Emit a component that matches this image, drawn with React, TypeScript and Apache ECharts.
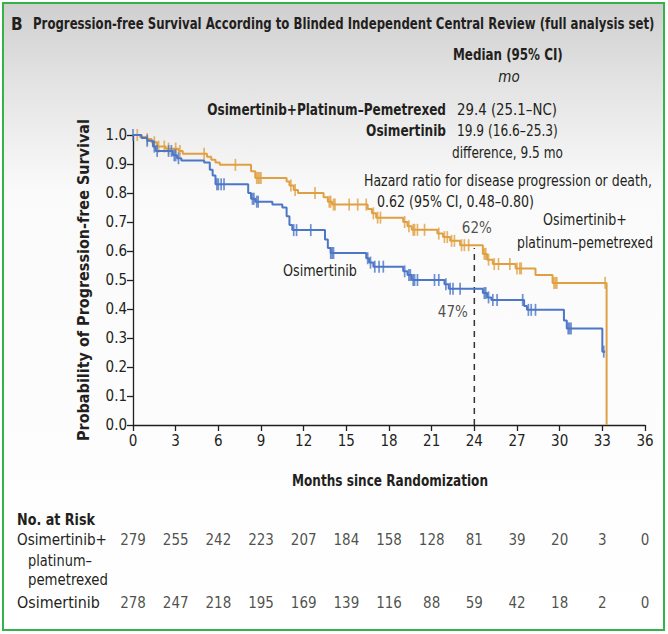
import React, { useEffect, useRef } from "react";
import * as echarts from "echarts";

// Months on the x axis and at-risk columns
const monthTicks = [0, 3, 6, 9, 12, 15, 18, 21, 24, 27, 30, 33, 36];
const comboAtRisk = [279, 255, 242, 223, 207, 184, 158, 128, 81, 39, 20, 3, 0];
const osiAtRisk = [278, 247, 218, 195, 169, 139, 116, 88, 59, 42, 18, 2, 0];

// Kaplan-Meier steps: [month, probability after the event]
const comboCurve: [number, number][] = [
  [0, 1.0], [0.5, 0.993], [1.0, 0.986], [1.3, 0.975], [1.7, 0.96], [2.3, 0.953],
  [3.2, 0.945], [3.5, 0.935], [5.2, 0.925], [5.5, 0.915], [5.8, 0.905], [6.1, 0.897],
  [8.3, 0.875], [8.6, 0.852], [10.8, 0.84], [11.0, 0.826], [11.3, 0.81], [11.6, 0.8],
  [13.4, 0.785], [13.7, 0.77], [14.0, 0.76], [16.5, 0.745], [16.8, 0.73], [17.1, 0.715],
  [19.0, 0.7], [19.3, 0.685], [19.6, 0.673], [21.4, 0.66], [21.8, 0.648], [22.3, 0.635],
  [23.0, 0.62], [24.6, 0.59], [24.9, 0.57], [25.3, 0.555], [26.9, 0.54], [28.3, 0.517],
  [29.5, 0.49], [33.3, 0.0],
];
const osiCurve: [number, number][] = [
  [0, 1.0], [0.6, 0.99], [1.0, 0.98], [1.4, 0.96], [1.6, 0.945], [2.8, 0.93],
  [3.1, 0.92], [3.4, 0.912], [5.0, 0.905], [5.4, 0.88], [5.6, 0.86], [5.8, 0.83],
  [8.1, 0.8], [8.3, 0.78], [8.6, 0.77], [9.8, 0.76], [10.5, 0.75], [10.8, 0.72],
  [11.0, 0.69], [11.2, 0.672], [13.5, 0.64], [13.7, 0.61], [13.9, 0.593], [16.4, 0.575],
  [16.6, 0.56], [16.9, 0.546], [19.0, 0.53], [19.3, 0.517], [19.6, 0.5], [21.9, 0.485],
  [22.2, 0.47], [24.6, 0.455], [24.9, 0.44], [25.2, 0.431], [27.5, 0.41], [27.7, 0.397],
  [30.3, 0.36], [30.5, 0.333], [33.0, 0.253], [33.2, 0.253],
];

// Censoring times (months)
const comboCensor = [
  0.3, 1.0, 1.5, 1.8, 2.2, 2.5, 3.0, 3.3, 5.0, 7.2, 8.7, 8.8, 8.9, 9.0, 11.1, 11.4,
  12.8, 13.8, 13.9, 14.1, 14.2, 15.2, 15.8, 16.4, 16.9, 17.2, 17.4, 19.1, 19.4, 19.7,
  19.8, 20.0, 20.5, 21.5, 21.9, 22.1, 22.4, 22.6, 23.1, 23.3, 23.6, 24.7, 24.8, 25.0,
  25.4, 25.7, 26.5, 27.0, 27.2, 27.3, 29.6, 29.7, 29.8, 33.2,
];
const osiCensor = [
  0.0, 1.0, 1.5, 1.7, 2.5, 2.7, 2.9, 3.0, 3.2, 5.9, 6.0, 6.2, 6.4, 8.4, 8.5, 8.7,
  8.8, 11.3, 11.5, 12.5, 13.9, 14.0, 14.1, 16.5, 16.7, 17.0, 17.3, 17.6, 19.1, 19.4,
  19.5, 19.7, 19.8, 20.0, 21.2, 21.5, 22.0, 22.3, 22.5, 23.0, 24.7, 24.8, 25.0, 25.3,
  25.6, 27.4, 27.8, 28.0, 28.3, 30.6, 30.7, 30.8, 33.1,
];

const landmarkMonth = 24;
const comboLandmark = 0.62;
const osiLandmark = 0.47;

const GOLD = "#E0A042";
const BLUE = "#4C76C6";
const INK = "#231F20";
const FONT = '"DejaVu Sans Condensed", "Liberation Sans Narrow", "Open Sans", sans-serif';

function survivalAt(curve: [number, number][], t: number): number {
  let s = curve[0][1];
  for (const [m, v] of curve) {
    if (m <= t) s = v;
    else break;
  }
  return s;
}

let measureCtx: CanvasRenderingContext2D | null = null;
function measure(text: string, font: string): number {
  if (!measureCtx) measureCtx = document.createElement("canvas").getContext("2d");
  if (!measureCtx) return 0;
  measureCtx.font = font;
  return measureCtx.measureText(text).width;
}

// Text element; when a width is given the text is condensed horizontally to fit it
function txt(x: number, y: number, text: string, opts: any = {}) {
  const font = `${opts.italic ? "italic " : ""}${opts.bold ? "bold " : ""}${opts.size || 15}px ${FONT}`;
  let scaleX = 1;
  if (opts.width) {
    const w = measure(text, font);
    if (w > 0) scaleX = opts.width / w;
  }
  return {
    type: "text",
    x,
    y,
    scaleX,
    style: {
      text,
      fill: INK,
      font,
      textAlign: opts.align || "left",
      textVerticalAlign: "middle",
    },
  };
}

export default function App() {
  const ref = useRef<HTMLDivElement>(null);

  useEffect(() => {
    if (!ref.current) return;
    const chart = echarts.init(ref.current, undefined, { renderer: "svg" });

    const censorSeries = (times: number[], curve: [number, number][], color: string) => ({
      type: "scatter",
      xAxisIndex: 0,
      yAxisIndex: 0,
      symbol: "rect",
      symbolSize: [1.7, 12],
      itemStyle: { color },
      silent: true,
      z: 3,
      data: times.map((t) => [t, survivalAt(curve, t)]),
    });

    const riskSeries = (counts: number[], row: number) => ({
      type: "scatter",
      xAxisIndex: 1,
      yAxisIndex: 1,
      symbolSize: 1,
      itemStyle: { color: "transparent" },
      silent: true,
      label: {
        show: true,
        position: "inside",
        align: "center",
        verticalAlign: "middle",
        fontSize: 15,
        fontFamily: FONT,
        color: INK,
        formatter: (p: any) => String(p.value[2]),
      },
      data: counts.map((c, i) => [monthTicks[i], row, c]),
    });

    const pctLabel = (value: number, position: number[], align: string) => ({
      type: "scatter",
      symbolSize: 1,
      itemStyle: { color: "transparent" },
      silent: true,
      label: {
        show: true,
        fontSize: 15,
        fontFamily: FONT,
        color: INK,
        align,
        verticalAlign: "middle",
        position,
        formatter: (p: any) => `${Math.round(p.value[1] * 100)}%`,
      },
      data: [[landmarkMonth, value]],
    });

    chart.setOption({
      animation: false,
      backgroundColor: "#ffffff",
      textStyle: { fontFamily: FONT },
      graphic: [
        {
          type: "rect",
          z: -10,
          shape: { x: 3, y: 3, width: 661, height: 627 },
          style: {
            fill: new echarts.graphic.LinearGradient(0, 0, 0, 1, [
              { offset: 0, color: "#cfcfcf" },
              { offset: 0.12, color: "#e2e2e2" },
              { offset: 0.3, color: "#fafafa" },
              { offset: 1, color: "#ffffff" },
            ]),
            stroke: "#36B24A",
            lineWidth: 2,
          },
        },
        txt(11, 24, "B", { bold: true, size: 17 }),
        txt(33, 24, "Progression-free Survival According to Blinded Independent Central Review (full analysis set)", { bold: true, size: 15, width: 622 }),
        txt(453, 55, "Median (95% CI)", { bold: true, width: 110 }),
        txt(509, 77, "mo", { italic: true, align: "center" }),
        txt(446, 110, "Osimertinib+Platinum\u2013Pemetrexed", { bold: true, align: "right", width: 239 }),
        txt(457, 110, "29.4 (25.1\u2013NC)", { width: 100 }),
        txt(446, 131, "Osimertinib", { bold: true, align: "right", width: 80 }),
        txt(457, 131, "19.9 (16.6\u201325.3)", { width: 101 }),
        txt(452, 153, "difference, 9.5 mo", { width: 111 }),
        txt(364, 181, "Hazard ratio for disease progression or death,", { width: 288 }),
        txt(377, 202, "0.62 (95% CI, 0.48\u20130.80)", { width: 157 }),
        txt(585, 220, "Osimertinib+", { align: "center", width: 84 }),
        txt(585, 243, "platinum\u2013pemetrexed", { align: "center", width: 136 }),
        txt(283, 270, "Osimertinib", { width: 74 }),
        txt(390, 480, "Months since Randomization", { bold: true, size: 16, align: "center", width: 196 }),
        txt(17, 520, "No. at Risk", { bold: true, size: 16, width: 78 }),
        txt(17, 540, "Osimertinib+", { width: 90 }),
        txt(28, 560, "platinum\u2013", { width: 64 }),
        txt(28, 580, "pemetrexed", { width: 80 }),
        txt(17, 603, "Osimertinib", { width: 83 }),
      ],
      grid: [
        { left: 133, right: 23, top: 135, bottom: 209 },
        { left: 133, right: 23, top: 540, bottom: 31 },
      ],
      xAxis: [
        {
          type: "value",
          gridIndex: 0,
          min: 0,
          max: 36,
          interval: 3,
          axisLine: { lineStyle: { color: INK, width: 1.3 } },
          axisTick: { length: 6, lineStyle: { color: INK, width: 1.3 } },
          axisLabel: { fontSize: 15, color: INK, margin: 8, fontFamily: FONT },
          splitLine: { show: false },
        },
        { type: "value", gridIndex: 1, min: 0, max: 36, show: false },
      ],
      yAxis: [
        {
          type: "value",
          gridIndex: 0,
          min: 0,
          max: 1,
          interval: 0.1,
          name: "Probability of Progression-free Survival",
          nameLocation: "middle",
          nameRotate: 90,
          nameGap: 42,
          nameTextStyle: { fontSize: 16, fontWeight: "bold", color: INK, fontFamily: FONT },
          axisLine: { show: true, lineStyle: { color: INK, width: 1.3 } },
          axisTick: { show: true, length: 6, lineStyle: { color: INK, width: 1.3 } },
          axisLabel: {
            fontSize: 15,
            color: INK,
            margin: 6,
            fontFamily: FONT,
            formatter: (v: number) => v.toFixed(1),
          },
          splitLine: { show: false },
        },
        { type: "value", gridIndex: 1, min: 0, max: 1, show: false },
      ],
      series: [
        {
          type: "line",
          name: "Osimertinib+platinum\u2013pemetrexed",
          step: "end",
          showSymbol: false,
          symbol: "none",
          lineStyle: { color: GOLD, width: 2 },
          data: comboCurve,
          z: 2,
        },
        {
          type: "line",
          name: "Osimertinib",
          step: "end",
          showSymbol: false,
          symbol: "none",
          lineStyle: { color: BLUE, width: 2 },
          data: osiCurve,
          z: 4,
        },
        censorSeries(comboCensor, comboCurve, GOLD),
        censorSeries(osiCensor, osiCurve, BLUE),
        {
          type: "line",
          symbol: "none",
          lineStyle: { color: "#333333", width: 1.5, type: [6, 5] },
          data: [
            [landmarkMonth, 0],
            [landmarkMonth, comboLandmark - 0.01],
          ],
          z: 1,
        },
        pctLabel(comboLandmark, [3, -17], "center"),
        pctLabel(osiLandmark, [-6, 24], "right"),
        riskSeries(comboAtRisk, 1),
        riskSeries(osiAtRisk, 0),
      ],
    });

    return () => chart.dispose();
  }, []);

  return (
    <div
      ref={ref}
      style={{ position: "fixed", left: 0, top: 0, width: 668, height: 634 }}
    />
  );
}
